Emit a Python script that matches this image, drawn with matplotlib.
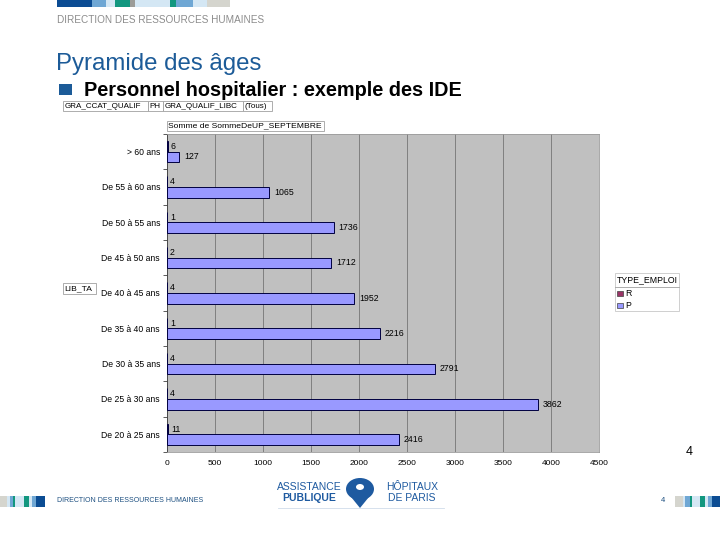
import numpy as np
import matplotlib
matplotlib.use("Agg")
import matplotlib.pyplot as plt
import matplotlib.patches as patches

plt.rcParams['font.family'] = ['Liberation Sans', 'DejaVu Sans']

# data (top to bottom as shown)
categories = ["> 60 ans", "De 55 à 60 ans", "De 50 à 55 ans", "De 45 à 50 ans",
              "De 40 à 45 ans", "De 35 à 40 ans", "De 30 à 35 ans",
              "De 25 à 30 ans", "De 20 à 25 ans"]
r_values = [6, 4, 1, 2, 4, 1, 4, 4, 11]
p_values = [127, 1065, 1736, 1712, 1952, 2216, 2791, 3862, 2416]
x_ticks = [0, 500, 1000, 1500, 2000, 2500, 3000, 3500, 4000, 4500]
legend_labels = ["R", "P"]

W, H = 720, 540
fig = plt.figure(figsize=(7.2, 5.4), dpi=100)
fig.patch.set_facecolor("white")


def px(x, y):
    return x / W, 1 - y / H


def rect(x0, y0, x1, y1, color, **kw):
    fig.patches.append(patches.Rectangle(px(x0, y1), (x1 - x0) / W, (y1 - y0) / H,
                                         transform=fig.transFigure, facecolor=color,
                                         edgecolor=kw.get("ec", "none"), lw=kw.get("lw", 0)))


def label_box(x0, y0, x1, y1, text, size=6.1):
    rect(x0, y0, x1, y1, "white", ec="#A0A0A0", lw=0.6)
    fig.text(*px(x0 + 1.5, (y0 + y1) / 2), text, fontsize=size, va="center", ha="left")


DARK, LIGHT, PALE, TEAL, GRAY, BEIGE = "#0B4C93", "#6FA7D4", "#D4E7F4", "#12977F", "#9C9C98", "#D5D5CE"

# top stripe
for x0, x1, c in [(57, 92, DARK), (92, 106, LIGHT), (106, 115, PALE), (115, 130, TEAL),
                  (130, 135, GRAY), (135, 170, PALE), (170, 176, TEAL), (176, 193, LIGHT),
                  (193, 207, PALE), (207, 230, BEIGE)]:
    rect(x0, 0, x1, 7, c)

fig.text(*px(57, 20), "DIRECTION DES RESSOURCES HUMAINES", fontsize=7.2, color="#8C8C8C",
         va="center")
fig.text(*px(56, 64), "Pyramide des âges", fontsize=17.3, color="#1C5B98", va="center")
rect(59, 84, 72, 95, "#1C5B98")
fig.text(*px(84, 90), "Personnel hospitalier : exemple des IDE", fontsize=14.3,
         fontweight="bold", va="center")

# filter boxes
label_box(63, 101, 148, 111, "GRA_CCAT_QUALIF", 5.8)
label_box(148, 101, 163, 111, "PH", 5.8)
label_box(163, 101, 243, 111, "GRA_QUALIF_LIBC", 5.8)
label_box(243, 101, 272, 111, "(Tous)", 5.8)
label_box(167, 121, 324, 131, "Somme de SommeDeUP_SEPTEMBRE")
label_box(63, 283, 96, 294, "LIB_TA")

# chart
ax = fig.add_axes([167 / W, 1 - 452 / H, (599 - 167) / W, (452 - 134) / H])
ax.set_facecolor("#C0C0C0")
y = np.arange(len(categories))
h = 0.3
ax.barh(y - h / 2, r_values, height=h, color="#993366", edgecolor="#000040", lw=0.7, zorder=3)
ax.barh(y + h / 2, p_values, height=h, color="#9999FF", edgecolor="#000040", lw=0.7, zorder=3)
for yi, r, p in zip(y, r_values, p_values):
    ax.text(r + 30, yi - h / 2, str(r), fontsize=6.3, va="center", ha="left")
    ax.text(p + 50, yi + h / 2, str(p), fontsize=6.3, va="center", ha="left")

ax.set_xlim(0, 4500)
ax.set_ylim(len(categories) - 0.5, -0.5)
ax.set_xticks(x_ticks)
ax.set_xticklabels([str(t) for t in x_ticks], fontsize=6)
ax.set_yticks(y)
ax.set_yticklabels(categories, fontsize=6.2)
ax.set_yticks(np.arange(len(categories) + 1) - 0.5, minor=True)
ax.tick_params(axis="y", which="major", length=0, pad=5)
ax.tick_params(axis="y", which="minor", length=3, color="#404040", width=0.6)
ax.tick_params(axis="x", length=0, pad=6)
ax.grid(axis="x", color="#808080", lw=0.7, zorder=1)
for s in ax.spines.values():
    s.set_color("#9A9A9A")
    s.set_linewidth(0.6)
ax.spines["left"].set_color("#404040")

# legend
rect(615, 273, 679, 311, "white", ec="#C8C8C8", lw=0.6)
fig.text(*px(617, 280), "TYPE_EMPLOI", fontsize=6.3, va="center")
fig.lines.append(plt.Line2D([615 / W, 679 / W], [1 - 287 / H, 1 - 287 / H],
                            transform=fig.transFigure, color="#A0A0A0", lw=0.6))
for i, (lab, c) in enumerate(zip(legend_labels, ["#993366", "#9999FF"])):
    yy = 293 + i * 12
    rect(617, yy - 2.5, 623, yy + 2.5, c, ec="#404040", lw=0.5)
    fig.text(*px(625, yy), lab, fontsize=6.3, va="center")

# page number
fig.text(*px(689, 452), "4", fontsize=9, ha="center", va="center")

# footer
for x0, x1, c in [(0, 7, BEIGE), (7, 10, PALE), (10, 13, LIGHT), (13, 15, TEAL), (15, 24, PALE),
                  (24, 29, TEAL), (29, 32, PALE), (32, 36, LIGHT), (36, 45, DARK)]:
    rect(x0, 496, x1, 507, c)
for x0, x1, c in [(675, 683, BEIGE), (683, 685, PALE), (685, 690, LIGHT), (690, 692, TEAL),
                  (692, 700, PALE), (700, 705, TEAL), (705, 708, PALE), (708, 712, LIGHT),
                  (712, 720, DARK)]:
    rect(x0, 496, x1, 507, c)
fig.text(*px(57, 501), "DIRECTION DES RESSOURCES HUMAINES", fontsize=5.0, color="#1C4F80",
         va="center")
fig.text(*px(661, 501), "4", fontsize=5.5, color="#1C4F80", va="center")

# logo
LOGO = "#1E5AA0"
fig.text(*px(309, 487), "ASSISTANCE", fontsize=7.5, color=LOGO, ha="center", va="center")
fig.text(*px(309, 498), "PUBLIQUE", fontsize=7.5, color=LOGO, ha="center", va="center",
         fontweight="bold")
fig.text(*px(412, 487), "HÔPITAUX", fontsize=7.5, color=LOGO, ha="center", va="center")
fig.text(*px(412, 498), "DE PARIS", fontsize=7.5, color=LOGO, ha="center", va="center")
fig.patches.append(patches.Ellipse(px(360, 489), 28 / W, 22 / H, transform=fig.transFigure,
                                   facecolor=LOGO, edgecolor="none"))
fig.patches.append(patches.Polygon([px(347, 492), px(373, 492), px(360, 508)], closed=True,
                                   transform=fig.transFigure, facecolor=LOGO, edgecolor="none"))
fig.patches.append(patches.Circle(px(360, 487), 4 / W, transform=fig.transFigure,
                                  facecolor="white", edgecolor="none"))
fig.lines.append(plt.Line2D([278 / W, 444 / W], [1 - 508 / H, 1 - 508 / H],
                            transform=fig.transFigure, color="#D0DCEA", lw=0.6))

fig.savefig("out.png", dpi=100)
